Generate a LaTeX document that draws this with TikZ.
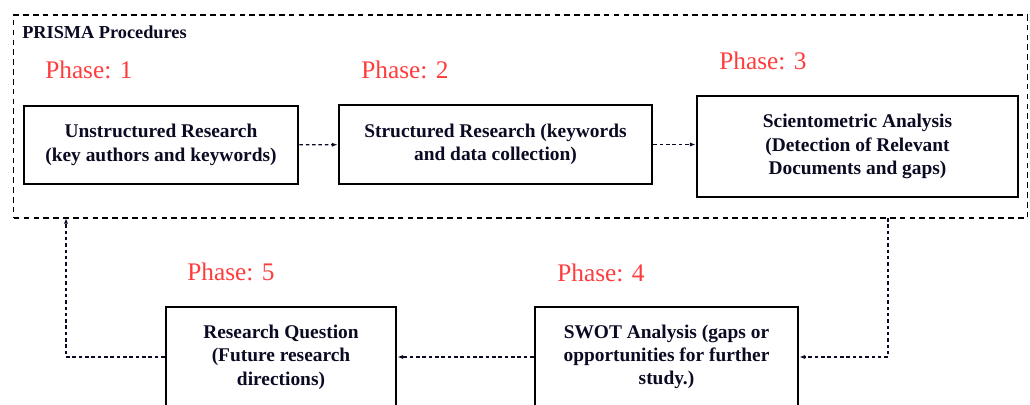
\documentclass[tikz,border=0pt]{standalone}
\usepackage{fontspec}
\setmainfont{Liberation Serif}
\usetikzlibrary{arrows.meta}
\definecolor{phasered}{RGB}{255,60,60}
\definecolor{inkblue}{RGB}{10,10,35}
\begin{document}
\begin{tikzpicture}[x=0.025cm, y=-0.025cm, >={Latex[length=4pt,width=3pt]},
    box/.style={draw, line width=2pt, align=center, text=inkblue, inner sep=0pt,
        font=\bfseries\fontsize{13.8}{16.6}\selectfont},
    phase/.style={anchor=west, inner sep=0pt, text=phasered, font=\fontsize{18}{20}\selectfont},
    link/.style={->, dash pattern=on 2.5pt off 2pt, line width=0.8pt, draw=inkblue}]
    \clip (0,0) rectangle (1030,405);
    % PRISMA frame
    \node[draw, dash pattern=on 4pt off 3pt, line width=0.8pt, minimum width=25.325cm, minimum height=5.075cm] (prisma) at (520.5,116.5){};
    \node[anchor=west, inner sep=0pt, text=inkblue, font=\bfseries\fontsize{13}{14}\selectfont] (title) at (22,32){PRISMA Procedures};
    \node[phase] (ph1) at (45,70){Phase: 1};
    \node[phase] (ph2) at (361,70){Phase: 2};
    \node[phase] (ph3) at (719,61){Phase: 3};
    \node[phase] (ph5) at (187,272){Phase: 5};
    \node[phase] (ph4) at (557,273){Phase: 4};
    % boxes
    \node[box, minimum width=6.85cm, minimum height=1.95cm] (unstr) at (161,145){Unstructured Research\\(key authors and keywords)};
    \node[box, minimum width=7.825cm, minimum height=1.975cm] (struc) at (495.5,144.5){Structured Research (keywords\\and data collection)};
    \node[box, minimum width=8.025cm, minimum height=2.525cm] (scient) at (857.5,146.5){Scientometric Analysis\\(Detection of Relevant\\Documents and gaps)};
    \node[box, minimum width=6.575cm, minimum height=2.5cm] (swot) at (666.5,357){SWOT Analysis (gaps or\\opportunities for further\\study.)};
    \node[box, minimum width=5.75cm, minimum height=2.5cm] (rq) at (281,357){Research Question\\(Future research\\directions)};
    % connectors
    \coordinate (out) at (888,218);
    \coordinate (back) at (66,218);
    \draw[link] (unstr) -- (struc);
    \draw[link] (struc.east) -- (struc.east -| scient.west);
    \draw[link] (out) |- (swot.east);
    \draw[link] (swot) -- (rq);
    \draw[link] (rq.west) -| (back);
\end{tikzpicture}
\end{document}
